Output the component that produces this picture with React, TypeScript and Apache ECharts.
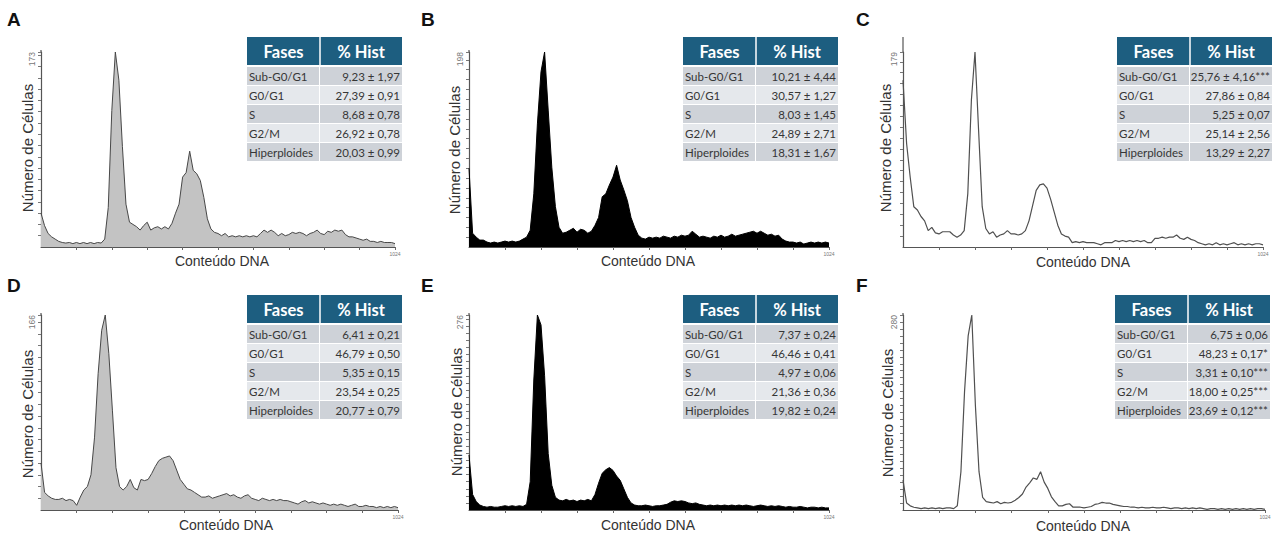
import React, { useEffect, useRef } from 'react';
import * as echarts from 'echarts';

// ---------- DATA ----------
const CHANNEL_MAX = 1024;
const CHANNEL_STEP = 10.24; // width of one histogram bin (channels)

const COUNTS_A = [30,19,12,9,7,5,4,3.5,4,3, 4,3,4,3,4,3,4,3.5,7,35, 121,173,148,89,38,22,20,18,15,19, 22,15,17,18,16,18,16,21,30,38, 62,66,85,68,65,59,44,25,16,13, 12,10,12,9,10,9,10,9,10,9, 10,9,12,15,13,15,13,10,12,10, 11,13,12,13,12,10,12,13,15,12, 11,14,13,15,14,15,11,9,9,8, 7,6,7,5,5,4,5,4,4,4, 3];
const COUNTS_B = [80,14,10,7,7,5,4,5,4,5, 6,5,6,5,6,8,10,17,54,125, 178,198,139,81,41,20,14,15,17,19, 15,18,17,14,16,22,30,51,54,63, 71,83,68,58,47,30,20,12,9,8, 10,9,10,9,11,10,9,11,10,12, 11,12,16,13,10,11,10,9,11,10, 12,10,11,13,11,12,13,14,15,16, 14,16,14,12,13,11,12,8,6,5, 5,4,5,3,4,5,4,5,4,5, 4];
const COUNTS_C = [153,95,64,37,34,28,24,15,18,13, 12,14,14,14,11,9,11,15,49,135, 179,107,37,17,12,14,9,11,12,15, 12,12,11,12,15,24,38,52,57,58, 54,44,32,20,12,10,9,4,5,4, 5,4,4,4,3,2,4,4,4,6, 5,6,5,6,5,6,5,6,4,4, 8,8,9,8,9,9,11,8,7,9, 7,6,4,3,2,3,2,4,2,3, 2,3,4,2,3,2,3,2,3,3, 2];
const COUNTS_D = [40,15,12,10,9,9,10,8,9,8, 4,11,17,20,30,62,116,153,166,133, 85,36,20,17,20,26,19,17,26,25, 26,31,37,42,44,45,46,42,34,26, 22,18,17,15,13,11,11,12,10,11, 12,13,14,12,13,11,10,12,13,10, 9,8,10,9,8,9,8,9,8,8, 7,6,5,7,8,6,7,6,5,6, 5,4,5,4,5,4,3,4,5,3, 3,4,3,3,2,3,2,3,2,3, 2];
const COUNTS_E = [78,22,12,7,5,4,5,4,4,5, 6,5,6,5,6,5,8,40,184,276, 262,190,80,35,18,14,13,15,13,14, 12,14,13,15,13,22,38,52,57,60, 56,48,42,30,18,10,7,6,6,7, 6,5,6,6,7,8,11,13,12,13, 12,10,9,10,8,7,6,7,6,7, 6,7,6,7,6,7,6,7,6,5, 6,7,6,5,6,5,6,5,4,5, 4,4,5,4,3,4,4,3,4,3, 3];
const COUNTS_F = [43,10,6,4,3,2,3,2,3,2, 3,2,3,3,2,6,55,170,250,280, 150,55,18,12,11,10,12,9,11,10, 11,14,18,23,33,39,46,44,55,40, 31,19,12,6,6,8,9,4,4,4, 3,4,5,8,9,11,10,10,8,7, 6,5,5,4,4,3,4,3,3,4, 3,3,4,3,2,3,3,2,3,2, 3,2,3,2,1,2,2,1,2,1, 2,1,2,1,2,1,2,1,2,2, 1];

const Y_MAX = [173, 198, 179, 166, 276, 280];

const PHASES = ['Sub-G0/G1', 'G0/G1', 'S', 'G2/M', 'Hiperploides'];
const TABLE_HEADERS = ['Fases', '% Hist'];
const HIST_A = ['9,23 ± 1,97', '27,39 ± 0,91', '8,68 ± 0,78', '26,92 ± 0,78', '20,03 ± 0,99'];
const HIST_B = ['10,21 ± 4,44', '30,57 ± 1,27', '8,03 ± 1,45', '24,89 ± 2,71', '18,31 ± 1,67'];
const HIST_C = ['25,76 ± 4,16***', '27,86 ± 0,84', '5,25 ± 0,07', '25,14 ± 2,56', '13,29 ± 2,27'];
const HIST_D = ['6,41 ± 0,21', '46,79 ± 0,50', '5,35 ± 0,15', '23,54 ± 0,25', '20,77 ± 0,79'];
const HIST_E = ['7,37 ± 0,24', '46,46 ± 0,41', '4,97 ± 0,06', '21,36 ± 0,36', '19,82 ± 0,24'];
const HIST_F = ['6,75 ± 0,06', '48,23 ± 0,17*', '3,31 ± 0,10***', '18,00 ± 0,25***', '23,69 ± 0,12***'];

const PANEL_LETTERS = ['A', 'B', 'C', 'D', 'E', 'F'];
const X_TITLE = 'Conteúdo DNA';
const Y_TITLE = 'Número de Células';

// ---------- LAYOUT / STYLE ----------
const COUNTS = [COUNTS_A, COUNTS_B, COUNTS_C, COUNTS_D, COUNTS_E, COUNTS_F];
const HISTS = [HIST_A, HIST_B, HIST_C, HIST_D, HIST_E, HIST_F];

const LAYOUT = [
  { grid: { left: 41, top: 52, width: 354, height: 195 }, axisTop: 50, letter: [7, 10], yTitle: [27, 148], xTitle: [222, 261], table: [247, 37], kind: 'gray' },
  { grid: { left: 469, top: 52, width: 360, height: 195 }, axisTop: 50, letter: [421, 10], yTitle: [454, 150], xTitle: [648, 261], table: [683, 37], kind: 'black' },
  { grid: { left: 903, top: 52, width: 360, height: 195 }, axisTop: 37, letter: [856, 10], yTitle: [885, 148], xTitle: [1083, 262], table: [1117, 37], kind: 'line' },
  { grid: { left: 41, top: 315, width: 357, height: 195 }, axisTop: 313, letter: [7, 276], yTitle: [27, 414], xTitle: [226, 525], table: [247, 295], kind: 'gray' },
  { grid: { left: 469, top: 315, width: 360, height: 195 }, axisTop: 313, letter: [421, 276], yTitle: [456, 412], xTitle: [648, 525], table: [683, 295], kind: 'black' },
  { grid: { left: 903, top: 315, width: 362, height: 195 }, axisTop: 313, letter: [856, 276], yTitle: [887, 413], xTitle: [1083, 526], table: [1115, 295], kind: 'line' },
];

const COL1_W = 73;
const COL2_W = 82;
const HEADER_H = 28;
const ROW_H = 19;
const HEADER_COLOR = '#1d5e80';
const ROW_DARK = '#ced2d8';
const ROW_LIGHT = '#e5e8ec';

function buildTable(x0: number, y0: number, values: string[]) {
  const children: any[] = [];
  const total = COL1_W + COL2_W;
  children.push({ type: 'rect', shape: { x: x0, y: y0, width: total, height: HEADER_H }, style: { fill: HEADER_COLOR } });
  children.push({ type: 'rect', shape: { x: x0 + COL1_W - 0.75, y: y0, width: 1.5, height: HEADER_H }, style: { fill: '#ffffff' } });
  children.push({ type: 'text', style: { text: TABLE_HEADERS[0], x: x0 + COL1_W / 2, y: y0 + HEADER_H / 2 + 1, align: 'center', verticalAlign: 'middle', fill: '#ffffff', fontFamily: 'Lato', fontWeight: 'bold', fontSize: 16.5 } });
  children.push({ type: 'text', style: { text: TABLE_HEADERS[1], x: x0 + COL1_W + COL2_W / 2, y: y0 + HEADER_H / 2 + 1, align: 'center', verticalAlign: 'middle', fill: '#ffffff', fontFamily: 'Lato', fontWeight: 'bold', fontSize: 16.5 } });
  const rowsTop = y0 + HEADER_H + 2;
  PHASES.forEach((p, k) => {
    const ry = rowsTop + k * ROW_H;
    const fill = k % 2 === 0 ? ROW_DARK : ROW_LIGHT;
    children.push({ type: 'rect', shape: { x: x0, y: ry, width: COL1_W - 1, height: ROW_H - 1 }, style: { fill } });
    children.push({ type: 'rect', shape: { x: x0 + COL1_W, y: ry, width: COL2_W, height: ROW_H - 1 }, style: { fill } });
    children.push({ type: 'text', style: { text: p, x: x0 + 2, y: ry + ROW_H / 2, align: 'left', verticalAlign: 'middle', fill: '#363636', fontFamily: 'Lato', fontSize: 11.5 } });
    children.push({ type: 'text', style: { text: values[k], x: x0 + COL1_W + COL2_W - 2, y: ry + ROW_H / 2, align: 'right', verticalAlign: 'middle', fill: '#363636', fontFamily: 'Lato', fontSize: 11.5 } });
  });
  return children;
}

function buildOption() {
  const grids: any[] = [];
  const xAxes: any[] = [];
  const yAxes: any[] = [];
  const series: any[] = [];
  const graphics: any[] = [];

  LAYOUT.forEach((L, i) => {
    const ymax = Y_MAX[i];
    grids.push({ ...L.grid, containLabel: false });
    xAxes.push({
      type: 'value', gridIndex: i, min: 0, max: CHANNEL_MAX, interval: CHANNEL_STEP * 10,
      axisLine: { show: true, onZero: false, lineStyle: { color: '#555', width: 1 } },
      axisTick: { show: true, length: 3, lineStyle: { color: '#666', width: 1 } },
      splitLine: { show: false },
      axisLabel: {
        show: true, showMinLabel: false, showMaxLabel: true, fontSize: 5, color: '#777', margin: 4,
        formatter: (v: number) => (v >= CHANNEL_MAX - 1 ? String(CHANNEL_MAX) : ''),
      },
    });
    yAxes.push({
      type: 'value', gridIndex: i, min: 0, max: ymax, interval: 10,
      axisLine: { show: true, lineStyle: { color: '#555', width: 1.2 } },
      axisTick: { show: true, length: 3, lineStyle: { color: '#777', width: 1 } },
      splitLine: { show: false },
      axisLabel: {
        show: true, rotate: 90, fontSize: 8.5, color: '#777', margin: 5,
        align: 'right', verticalAlign: 'bottom', showMinLabel: false, showMaxLabel: true,
        formatter: (v: number) => (v === ymax ? String(ymax) : ''),
      },
    });
    const kind = L.kind;
    const s: any = {
      type: 'line', xAxisIndex: i, yAxisIndex: i, silent: true,
      showSymbol: false, symbol: 'none',
      data: COUNTS[i].map((c, k) => [k * CHANNEL_STEP, c]),
      lineStyle: {
        color: kind === 'black' ? '#000000' : kind === 'gray' ? '#474747' : '#505050',
        width: kind === 'line' ? 1.2 : 1,
      },
    };
    if (kind === 'gray') s.areaStyle = { color: '#c3c3c3', opacity: 1 };
    if (kind === 'black') s.areaStyle = { color: '#000000', opacity: 1 };
    series.push(s);

    // short extension of the y axis line above the max value
    if (L.axisTop < L.grid.top) {
      graphics.push({ type: 'line', shape: { x1: L.grid.left, y1: L.axisTop, x2: L.grid.left, y2: L.grid.top }, style: { stroke: '#555', lineWidth: 1.2 } });
    }
    graphics.push({ type: 'text', style: { text: PANEL_LETTERS[i], x: L.letter[0], y: L.letter[1], fill: '#111', fontFamily: 'Liberation Sans', fontWeight: 'bold', fontSize: 19, align: 'left', verticalAlign: 'top' } });
    graphics.push({ type: 'text', x: L.yTitle[0], y: L.yTitle[1], rotation: Math.PI / 2, style: { text: Y_TITLE, x: 0, y: 0, fill: '#333', fontFamily: 'Liberation Sans', fontSize: 15, align: 'center', verticalAlign: 'middle' } });
    graphics.push({ type: 'text', style: { text: X_TITLE, x: L.xTitle[0], y: L.xTitle[1], fill: '#333', fontFamily: 'Liberation Sans', fontSize: 14, align: 'center', verticalAlign: 'middle' } });
    graphics.push({ type: 'group', children: buildTable(L.table[0], L.table[1], HISTS[i]) });
  });

  return {
    animation: false,
    backgroundColor: '#ffffff',
    grid: grids,
    xAxis: xAxes,
    yAxis: yAxes,
    series,
    graphic: { elements: graphics },
  };
}

export default function App() {
  const ref = useRef<HTMLDivElement>(null);
  useEffect(() => {
    if (!ref.current) return;
    const chart = echarts.init(ref.current, undefined, { renderer: 'svg' });
    chart.setOption(buildOption() as any);
    return () => chart.dispose();
  }, []);
  return <div ref={ref} style={{ position: 'absolute', left: 0, top: 0, width: 1278, height: 541 }} />;
}
